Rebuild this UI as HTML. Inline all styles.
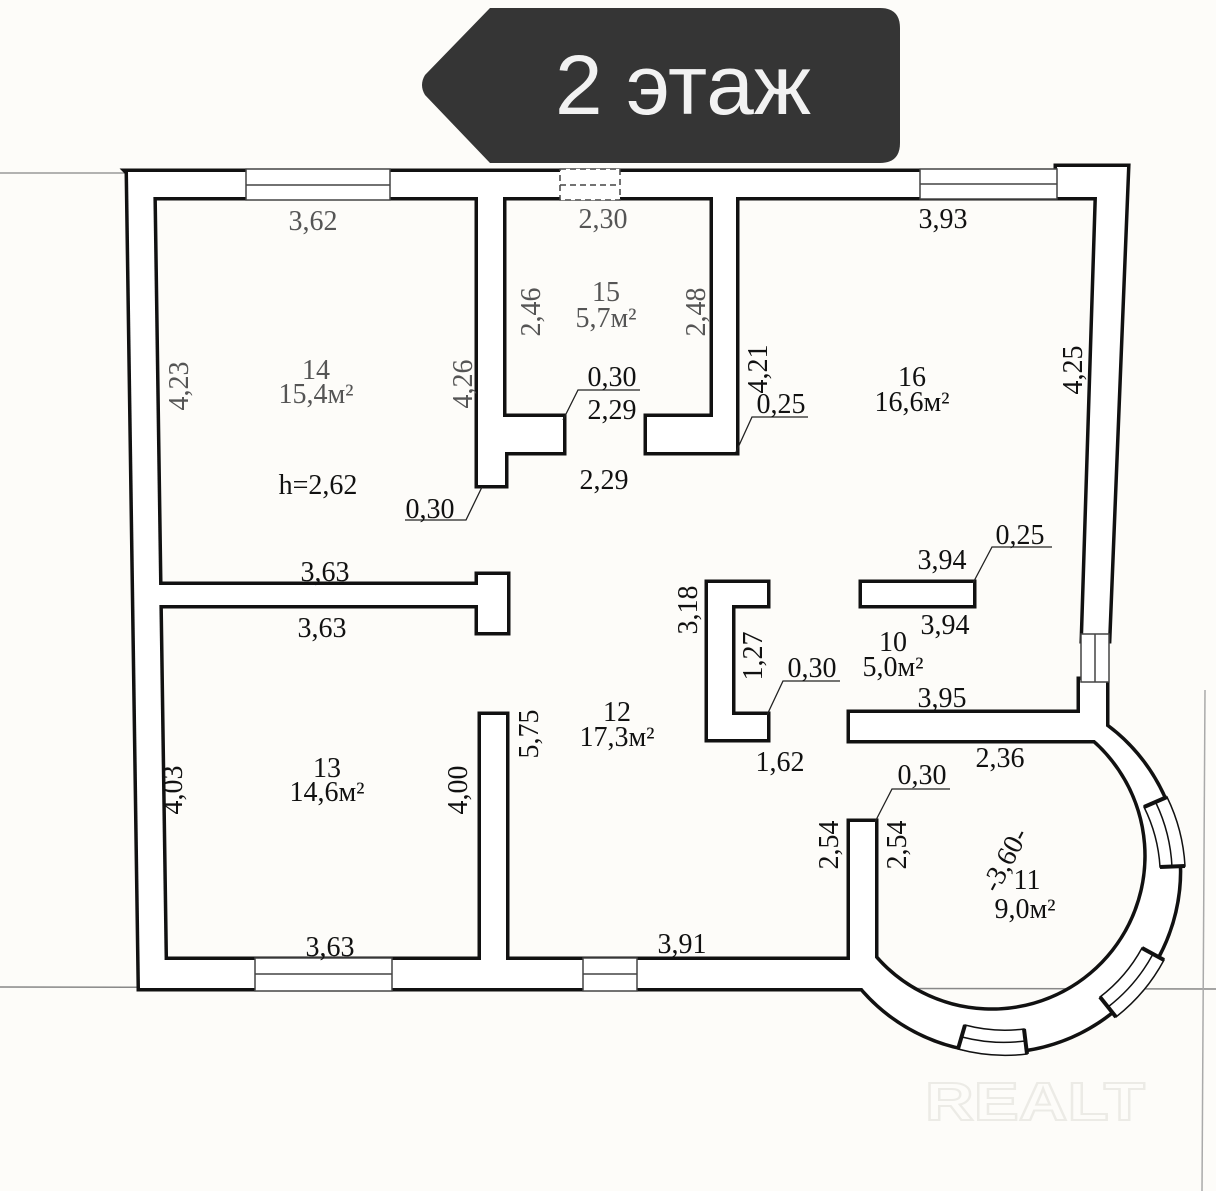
<!DOCTYPE html>
<html><head><meta charset="utf-8"><style>
html,body{margin:0;padding:0;background:#fdfcf9;}
svg{display:block}
.t{font-family:"Liberation Serif",serif;font-size:28px;fill:#111;text-anchor:middle}
.g{fill:#555}
</style></head><body>
<svg width="1216" height="1191" viewBox="0 0 1216 1191" xmlns="http://www.w3.org/2000/svg">
<rect width="1216" height="1191" fill="#fdfcf9"/>
<line x1="0" y1="173" x2="128" y2="173" stroke="#999" stroke-width="1.5"/>
<line x1="0" y1="987" x2="1216" y2="989" stroke="#888" stroke-width="1.5"/>
<line x1="1205" y1="690" x2="1202" y2="1191" stroke="#aaa" stroke-width="1.5"/>

<path d="M490,8 L880,8 Q900,8 900,28 L900,143 Q900,163 880,163 L490,163 L425,95 Q419,85 425,75 Z" fill="#353535"/>
<text x="683" y="114" font-family="Liberation Sans, sans-serif" font-size="84" fill="#f2f2f2" text-anchor="middle" textLength="256" lengthAdjust="spacingAndGlyphs">2 этаж</text>

<text x="1035" y="1120" font-family="Liberation Sans, sans-serif" font-size="54" font-weight="bold" fill="none" stroke="#ecebe6" stroke-width="2" text-anchor="middle" textLength="220" lengthAdjust="spacingAndGlyphs">REALT</text>

<g id="walls">
<defs>
<g id="w">
  <polygon points="128,172 1070,172 1070,197 153,197"/>
  <polygon points="128,172 153,172 165,988 140,988"/>
  <polygon points="1057,167 1127,167 1108,640 1083,640 1097,197 1057,197"/>
  <polygon points="1080,680 1106,680 1106,730 1080,730"/>
  <polygon points="140,960 875,960 875,988 140,988"/>
  <polygon points="478,197 503,197 503,417 563,417 563,452 505,452 505,485 478,485"/>
  <polygon points="647,417 713,417 713,197 736,197 736,452 647,452"/>
  <polygon points="155,585 478,585 478,575 507,575 507,632 478,632 478,605 155,605"/>
  <rect x="481" y="715" width="25" height="250"/>
  <polygon points="708,583 767,583 767,605 732,605 732,715 767,715 767,739 708,739"/>
  <rect x="862" y="583" width="111" height="22"/>
  <rect x="850" y="713" width="250" height="27"/>
  <rect x="850" y="822" width="25" height="150"/>
  <path d="M1085,732 A155,155 0 1 1 871,953 L852,975 A180,180 0 1 0 1100,722 Z"/>
</g>
</defs>
<use href="#w" fill="#111" stroke="#111" stroke-width="7" stroke-linejoin="miter"/>
<use href="#w" fill="#fff" stroke="none"/>
</g>

<g stroke="#444" stroke-width="1.5" fill="#fff">
  <rect x="246" y="169" width="144" height="31"/>
  <line x1="246" y1="185" x2="390" y2="185"/>
  <rect x="560" y="169" width="60" height="31" stroke-dasharray="6,4"/>
  <line x1="560" y1="185" x2="620" y2="185" stroke-dasharray="6,4"/>
  <rect x="920" y="169" width="137" height="30"/>
  <line x1="920" y1="184" x2="1057" y2="184"/>
  <rect x="1081" y="634" width="28" height="48"/>
  <line x1="1095" y1="634" x2="1095" y2="682"/>
  <rect x="255" y="958" width="137" height="33"/>
  <line x1="255" y1="974" x2="392" y2="974"/>
  <rect x="583" y="958" width="54" height="33"/>
  <line x1="583" y1="974" x2="637" y2="974"/>
</g>
<g stroke="#111" stroke-width="1.5" fill="#fff">
  <path d="M1144,807 A155,155 0 0 1 1160,867 L1185,866 A180,180 0 0 0 1167,797 Z"/>
  <path d="M1156,803 A167,167 0 0 1 1172,867" fill="none"/>
  <path d="M1142,948 A155,155 0 0 1 1100,997 L1116,1017 A180,180 0 0 0 1164,960 Z"/>
  <path d="M1153,954 A167,167 0 0 1 1108,1007" fill="none"/>
  <path d="M1024,1029 A155,155 0 0 1 965,1025 L958,1049 A180,180 0 0 0 1027,1054 Z"/>
  <path d="M1025,1041 A167,167 0 0 1 962,1037" fill="none"/>
</g>
<g stroke="#111" stroke-width="4">
  <line x1="1144" y1="807" x2="1167" y2="797"/>
  <line x1="1160" y1="867" x2="1185" y2="866"/>
  <line x1="1142" y1="948" x2="1164" y2="960"/>
  <line x1="1100" y1="997" x2="1116" y2="1017"/>
  <line x1="1024" y1="1029" x2="1027" y2="1054"/>
  <line x1="965" y1="1025" x2="958" y2="1049"/>
</g>

<g stroke="#222" stroke-width="1.3" fill="none">
  <polyline points="563,420 578,390 640,390"/>
  <polyline points="736,452 752,417 808,417"/>
  <polyline points="482,487 466,520 405,520"/>
  <polyline points="973,583 992,547 1052,547"/>
  <polyline points="767,715 783,681 840,681"/>
  <polyline points="875,822 892,789 950,789"/>
</g>

<g class="t">
<text class="t g" x="313" y="230">3,62</text>
<text class="t g" x="603" y="228">2,30</text>
<text class="t" x="943" y="228">3,93</text>
<text class="t g" x="606" y="301">15</text>
<text class="t g" x="606" y="327">5,7м²</text>
<text class="t g" transform="translate(540,312) rotate(-90)">2,46</text>
<text class="t g" transform="translate(705,312) rotate(-90)">2,48</text>
<text class="t g" x="316" y="379">14</text>
<text class="t g" x="316" y="403">15,4м²</text>
<text class="t g" transform="translate(188,386) rotate(-90)">4,23</text>
<text class="t g" transform="translate(472,384) rotate(-90)">4,26</text>
<text class="t" transform="translate(767,369) rotate(-90)">4,21</text>
<text class="t" x="912" y="386">16</text>
<text class="t" x="912" y="411">16,6м²</text>
<text class="t" transform="translate(1082,370) rotate(-90)">4,25</text>
<text class="t" x="612" y="386">0,30</text>
<text class="t" x="612" y="419">2,29</text>
<text class="t" x="781" y="413">0,25</text>
<text class="t" x="318" y="494">h=2,62</text>
<text class="t" x="604" y="489">2,29</text>
<text class="t" x="430" y="518">0,30</text>
<text class="t" x="325" y="581">3,63</text>
<text class="t" x="322" y="637">3,63</text>
<text class="t" x="942" y="569">3,94</text>
<text class="t" x="1020" y="544">0,25</text>
<text class="t" transform="translate(697,610) rotate(-90)">3,18</text>
<text class="t" transform="translate(762,656) rotate(-90)">1,27</text>
<text class="t" x="812" y="677">0,30</text>
<text class="t" x="945" y="634">3,94</text>
<text class="t" x="893" y="651">10</text>
<text class="t" x="893" y="676">5,0м²</text>
<text class="t" x="942" y="707">3,95</text>
<text class="t" x="617" y="721">12</text>
<text class="t" x="617" y="746">17,3м²</text>
<text class="t" transform="translate(538,734) rotate(-90)">5,75</text>
<text class="t" x="780" y="771">1,62</text>
<text class="t" x="1000" y="767">2,36</text>
<text class="t" x="922" y="784">0,30</text>
<text class="t" x="327" y="777">13</text>
<text class="t" x="327" y="801">14,6м²</text>
<text class="t" transform="translate(182,790) rotate(-90)">4,03</text>
<text class="t" transform="translate(467,790) rotate(-90)">4,00</text>
<text class="t" transform="translate(838,845) rotate(-90)">2,54</text>
<text class="t" transform="translate(906,845) rotate(-90)">2,54</text>
<text class="t" transform="translate(1013,864) rotate(-62)">-3,60-</text>
<text class="t" x="1027" y="889">11</text>
<text class="t" x="1025" y="918">9,0м²</text>
<text class="t" x="330" y="956">3,63</text>
<text class="t" x="682" y="953">3,91</text>
</g>
</svg>
</body></html>
